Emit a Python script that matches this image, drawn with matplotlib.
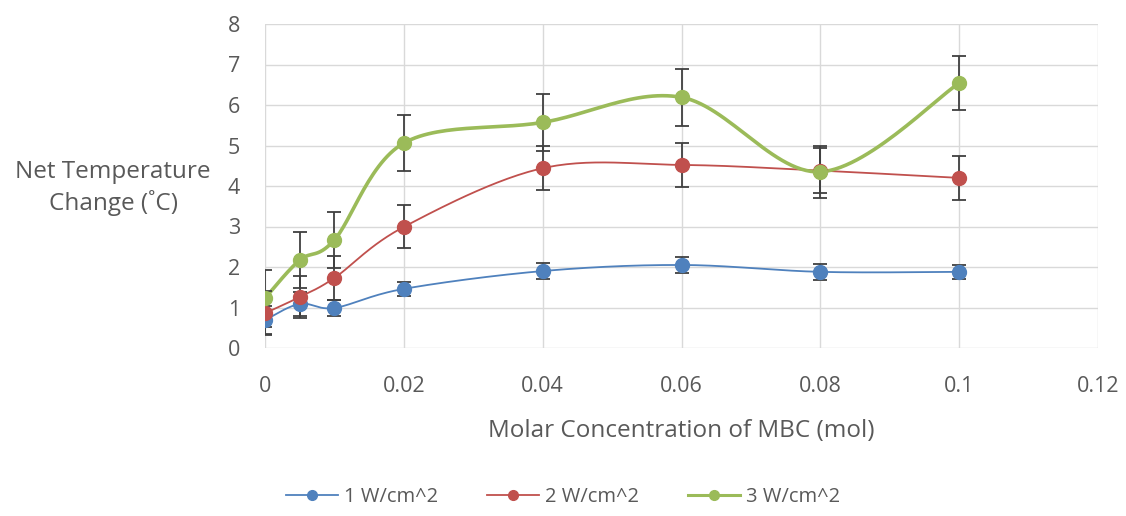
import numpy as np
import matplotlib
matplotlib.use('Agg')
import matplotlib.pyplot as plt
from matplotlib.lines import Line2D

plt.rcParams['font.family'] = ['Open Sans', 'DejaVu Sans']

# 데이터
conc = [0, 0.005, 0.01, 0.02, 0.04, 0.06, 0.08, 0.1]
w1 = [0.69, 1.09, 0.99, 1.46, 1.90, 2.05, 1.88, 1.88]
w1_err = [0.35, 0.3, 0.2, 0.18, 0.2, 0.2, 0.2, 0.18]
w2 = [0.86, 1.26, 1.73, 2.99, 4.44, 4.52, 4.38, 4.20]
w2_err = [0.55, 0.52, 0.55, 0.53, 0.55, 0.55, 0.55, 0.55]
w3 = [1.23, 2.17, 2.67, 5.06, 5.57, 6.19, 4.35, 6.54]
w3_err = [0.7, 0.7, 0.7, 0.7, 0.7, 0.7, 0.65, 0.67]
labels = ['1 W/cm^2', '2 W/cm^2', '3 W/cm^2']
colors = ['#4F81BD', '#C0504D', '#9BBB59']
widths = [1.3, 1.3, 2.6]


def smooth(x, y, n=30):
    # 엑셀 스타일 곡선 (Catmull-Rom)
    x = np.asarray(x, float)
    y = np.asarray(y, float)
    px = np.concatenate([[x[0]], x, [x[-1]]])
    py = np.concatenate([[y[0]], y, [y[-1]]])
    xs, ys = [], []
    for i in range(1, len(px) - 2):
        p0, p1, p2, p3 = [np.array([px[j], py[j]]) for j in (i - 1, i, i + 1, i + 2)]
        c1 = p1 + (p2 - p0) / 6
        c2 = p2 - (p3 - p1) / 6
        t = np.linspace(0, 1, n)[:, None]
        pts = (1 - t) ** 3 * p1 + 3 * (1 - t) ** 2 * t * c1 + 3 * (1 - t) * t ** 2 * c2 + t ** 3 * p2
        xs.extend(pts[:, 0])
        ys.extend(pts[:, 1])
    return xs, ys


fig = plt.figure(figsize=(11.26, 5.16), dpi=100)
ax = fig.add_axes([265 / 1126, 1 - 348 / 516, (1098 - 265) / 1126, (348 - 24) / 516])

handles = []
for ys, err, c, lw, lab in zip([w1, w2, w3], [w1_err, w2_err, w3_err], colors, widths, labels):
    sx, sy = smooth(conc, ys)
    ax.plot(sx, sy, color=c, lw=lw, zorder=3)
    ax.errorbar(conc, ys, yerr=err, fmt='none', ecolor='#404040', elinewidth=1.3,
                capsize=5, capthick=1.3, zorder=4)
    ax.plot(conc, ys, 'o', color=c, ms=10, zorder=5)
    handles.append(Line2D([], [], color=c, lw=lw if lw < 2 else 2.2, marker='o', ms=7, label=lab))

ax.set_xlim(0, 0.12)
ax.set_ylim(0, 8)
ax.set_xticks([0, 0.02, 0.04, 0.06, 0.08, 0.1, 0.12])
ax.set_xticklabels(['0', '0.02', '0.04', '0.06', '0.08', '0.1', '0.12'])
ax.set_yticks(range(0, 9))
ax.grid(True, color='#D9D9D9', lw=1)
ax.set_axisbelow(True)
for s in ax.spines.values():
    s.set_visible(False)
ax.tick_params(axis='x', length=0, labelsize=15.5, labelcolor='#595959', pad=20)
ax.tick_params(axis='y', length=0, labelsize=15.5, labelcolor='#595959', pad=18)
ax.set_xlabel('Molar Concentration of MBC (mol)', fontsize=17.5, color='#595959', labelpad=16)

fig.text(113 / 1126, 1 - 188 / 516, 'Net Temperature\nChange (˚C)', ha='center', va='center',
         fontsize=17.5, color='#595959', linespacing=1.35)

fig.legend(handles=handles, loc='center', bbox_to_anchor=(563 / 1126, 1 - 497 / 516), ncol=3,
           frameon=False, fontsize=14.5, labelcolor='#595959', handlelength=2.6,
           columnspacing=2.4, handletextpad=0.3)

fig.savefig('out.png', dpi=100)
